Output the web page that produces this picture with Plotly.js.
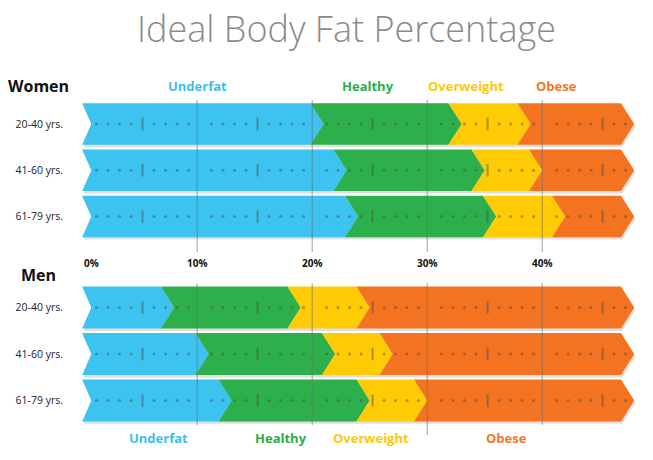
<!DOCTYPE html>
<html>
<head>
<meta charset="utf-8">
<script src="https://cdn.plot.ly/plotly-3.0.1.min.js"></script>
<style>html,body{margin:0;padding:0;background:#fff;}#chart{width:653px;height:460px;}</style>
</head>
<body>
<div id="chart"></div>
<script>
// ---------------- data ----------------
const chartTitle = 'Ideal Body Fat Percentage';
const ageGroups = ['20-40 yrs.', '41-60 yrs.', '61-79 yrs.'];
const categories = ['Underfat', 'Healthy', 'Overweight', 'Obese'];
const groupNames = ['Women', 'Men'];
// upper limit (%) of each category, per age group
const womenUnderfatMax   = [21, 23, 24];
const womenHealthyMax    = [33, 35, 36];
const womenOverweightMax = [39, 40, 42];
const menUnderfatMax     = [8, 11, 13];
const menHealthyMax      = [19, 22, 25];
const menOverweightMax   = [25, 27, 30];
const scaleMax = 48;
const percentTicks = [0, 10, 20, 30, 40];
const percentTickLabels = ['0%', '10%', '20%', '30%', '40%'];

// ---------------- style ----------------
const colors = ['#3DC3EF', '#2DB04B', '#FFCB05', '#F37321'];
const labelColors = ['#3CBFEB', '#2BAE4A', '#FDC80C', '#F2772A'];
const W = 653, H = 460, ML = 81, MR = 13;
const plotW = W - ML - MR;
const FONT = 'Open Sans, Noto Sans, sans-serif';
const barH = 0.9, tipD = 1.15, notch = 0.8;
const px = x => (x - ML) / plotW;   // container px -> paper x
const py = y => 1 - y / H;           // container px -> paper y

const groups = [
  {yaxis: 'y',  bounds: [womenUnderfatMax, womenHealthyMax, womenOverweightMax]},
  {yaxis: 'y2', bounds: [menUnderfatMax, menHealthyMax, menOverweightMax]}
];

const traces = [];
groups.forEach(g => {
  ageGroups.forEach((age, r) => {
    const yc = r, t = yc - barH / 2, b = yc + barH / 2;
    // soft shadow
    const s = 0.055;
    traces.push({
      type: 'scatter', mode: 'lines', fill: 'toself', yaxis: g.yaxis,
      x: [0.1, scaleMax - tipD + 0.1, scaleMax + 0.1, scaleMax - tipD + 0.1, 0.1, notch + 0.1, 0.1],
      y: [t + s, t + s, yc + s, b + s, b + s, yc + s, t + s],
      line: {width: 0}, fillcolor: 'rgba(0,0,0,0.13)', hoverinfo: 'skip', showlegend: false
    });
    const edges = [0, g.bounds[0][r], g.bounds[1][r], g.bounds[2][r], scaleMax];
    categories.forEach((cat, k) => {
      const a = edges[k], e = edges[k + 1];
      let xs, ys;
      if (k === 0) {
        xs = [0, e - tipD, e, e - tipD, 0, notch, 0];
      } else {
        xs = [a - tipD, e - tipD, e, e - tipD, a - tipD, a, a - tipD];
      }
      ys = [t, t, yc, b, b, yc, t];
      traces.push({
        type: 'scatter', mode: 'lines', fill: 'toself', yaxis: g.yaxis,
        x: xs, y: ys, line: {width: 0}, fillcolor: colors[k],
        name: cat, hoverinfo: 'name', showlegend: false
      });
    });
    // dotted scale inside bar
    const dx = [], tx = [];
    for (let i = 1; i < scaleMax; i++) {
      if (i % 10 === 0) continue;
      if (i % 5 === 0) tx.push(i + 0.25); else dx.push(i + 0.25);
    }
    traces.push({
      type: 'scatter', mode: 'markers', yaxis: g.yaxis, x: dx, y: dx.map(() => yc),
      marker: {size: 3, color: 'rgba(70,70,70,0.45)'}, hoverinfo: 'skip', showlegend: false
    });
    traces.push({
      type: 'scatter', mode: 'markers', yaxis: g.yaxis, x: tx, y: tx.map(() => yc),
      marker: {symbol: 'line-ns', size: 9, line: {width: 2, color: 'rgba(70,70,70,0.45)'}},
      hoverinfo: 'skip', showlegend: false
    });
  });
});

// grid lines drawn above the bars
const shapes = [];
percentTicks.filter(v => v > 0).forEach(v => {
  shapes.push({type: 'line', xref: 'x', yref: 'paper', x0: v, x1: v, y0: py(100), y1: py(252),
    layer: 'above', line: {color: 'rgba(110,110,110,0.65)', width: 1}});
  shapes.push({type: 'line', xref: 'x', yref: 'paper', x0: v, x1: v, y0: py(283), y1: py(v === 30 ? 435 : 425),
    layer: 'above', line: {color: 'rgba(110,110,110,0.65)', width: 1}});
});

const annotations = [];
const ann = (text, x, y, font, xref) => ({text: text, xref: xref || 'paper', yref: 'paper', x: x, y: y,
  xanchor: 'center', yanchor: 'middle', showarrow: false, font: font});
// group names
annotations.push(ann('<b>' + groupNames[0] + '</b>', px(38.5), py(86), {family: FONT, size: 16, color: '#111'}));
annotations.push(ann('<b>' + groupNames[1] + '</b>', px(38), py(275), {family: FONT, size: 16, color: '#111'}));
// category headers (top) and footers (bottom)
const topX = [197, 368, 466, 556];
const botX = [158, 280.5, 371, 506.7];
categories.forEach((c, k) => {
  annotations.push(ann('<b>' + c + '</b>', px(topX[k]), py(86), {family: FONT, size: 13, color: labelColors[k]}));
  annotations.push(ann('<b>' + c + '</b>', px(botX[k]), py(438), {family: FONT, size: 13, color: labelColors[k]}));
});
// percent scale labels
percentTicks.forEach((v, i) => {
  const a = ann('<b>' + percentTickLabels[i] + '</b>', v, py(263), {family: FONT, size: 10, color: '#111'}, 'x');
  if (v === 0) a.xanchor = 'left';
  annotations.push(a);
});

const yax = (domain) => ({
  domain: domain, range: [2.5, -0.5], tickvals: [0, 1, 2], ticktext: ageGroups,
  showgrid: false, zeroline: false, showline: false, ticks: '', ticklabelstandoff: 17,
  tickfont: {family: FONT, size: 10.5, color: '#222'}, fixedrange: true
});

const layout = {
  width: W, height: H,
  margin: {l: ML, r: MR, t: 0, b: 0},
  paper_bgcolor: '#fff', plot_bgcolor: 'rgba(0,0,0,0)',
  title: {text: chartTitle, xref: 'container', yref: 'container', x: 346.5 / W, xanchor: 'center',
    y: py(29), yanchor: 'middle', font: {family: FONT, size: 36, weight: 300, color: '#8B8B8B'}},
  xaxis: {range: [-0.1, 48.5], visible: false, fixedrange: true, anchor: 'y2'},
  yaxis: yax([0.4791, 0.7807]),
  yaxis2: yax([0.0788, 0.3821]),
  shapes: shapes, annotations: annotations, showlegend: false
};

Plotly.newPlot('chart', traces, layout, {displayModeBar: false, staticPlot: true});
</script>
</body>
</html>
